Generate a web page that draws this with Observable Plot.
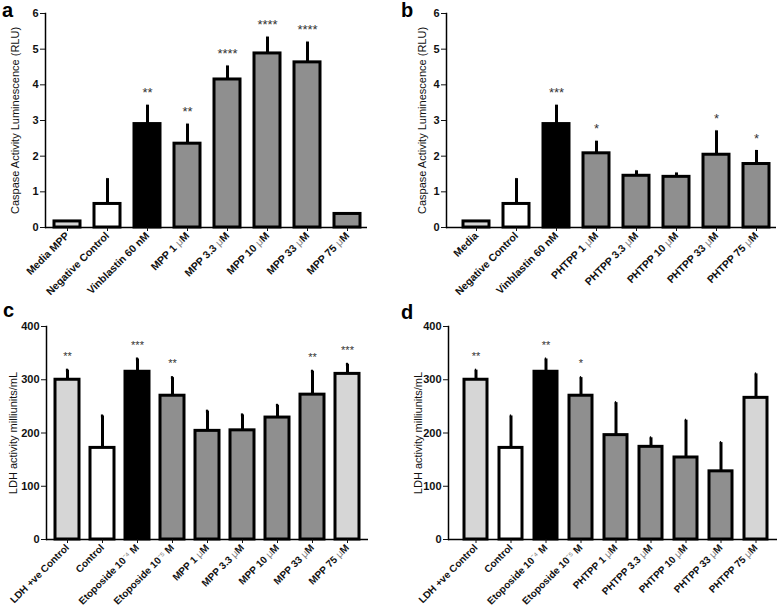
<!DOCTYPE html>
<html>
<head>
<meta charset="utf-8">
<script src="https://cdn.jsdelivr.net/npm/d3@7"></script>
<script src="https://cdn.jsdelivr.net/npm/@observablehq/plot@0.6"></script>
<style>
  html, body { margin: 0; padding: 0; background: #fff; }
  #root { position: relative; width: 778px; height: 607px; overflow: hidden; font-family: "Liberation Sans", Arial, sans-serif; }
  .panel { position: absolute; }
  .panel svg { overflow: visible; }
  .letter { position: absolute; font-weight: bold; font-size: 20px; line-height: 20px; color: #000; }
  .panel g[aria-label="x-axis tick label"] { font-size: 10.5px !important; font-weight: bold; }
  .panel.ldh g[aria-label="x-axis tick label"] { font-size: 10px !important; }
  .panel g[aria-label="y-axis tick label"] { font-size: 11px !important; font-weight: bold; }
</style>
</head>
<body>
<div id="root"></div>
<script>
// ---------- Data ----------
// Panel a: caspase activity, MPP
const aNames = ["Media MPP", "Negative Control", "Vinblastin 60 nM", "MPP 1 μM", "MPP 3.3 μM", "MPP 10 μM", "MPP 33 μM", "MPP 75 μM"];
const aGroup = ["media", "negative", "reference", "treatment", "treatment", "treatment", "treatment", "treatment"];
const aMean  = [0.17, 0.66, 2.90, 2.35, 4.15, 4.88, 4.63, 0.38];
const aUpper = [null, 1.37, 3.43, 2.90, 4.53, 5.34, 5.20, null];
const aStars = ["", "", "**", "**", "****", "****", "****", ""];

// Panel b: caspase activity, PHTPP
const bNames = ["Media", "Negative Control", "Vinblastin 60 nM", "PHTPP 1 μM", "PHTPP 3.3 μM", "PHTPP 10 μM", "PHTPP 33 μM", "PHTPP 75 μM"];
const bGroup = ["media", "negative", "reference", "treatment", "treatment", "treatment", "treatment", "treatment"];
const bMean  = [0.17, 0.66, 2.90, 2.08, 1.45, 1.42, 2.04, 1.78];
const bUpper = [null, 1.37, 3.43, 2.42, 1.59, 1.53, 2.71, 2.16];
const bStars = ["", "", "***", "*", "", "", "*", "*"];

// Panel c: LDH activity, MPP
const cNames = ["LDH +ve Control", "Control", "Etoposide 10⁻⁴ M", "Etoposide 10⁻⁵ M", "MPP 1 μM", "MPP 3.3 μM", "MPP 10 μM", "MPP 33 μM", "MPP 75 μM"];
const cGroup = ["media", "negative", "reference", "treatment", "treatment", "treatment", "treatment", "treatment", "media"];
const cMean  = [300, 172, 315, 270, 204, 205, 229, 272, 311];
const cUpper = [318, 232, 339, 304, 241, 234, 252, 316, 329];
const cStars = ["**", "", "***", "**", "", "", "", "**", "***"];

// Panel d: LDH activity, PHTPP
const dNames = ["LDH +ve Control", "Control", "Etoposide 10⁻⁴ M", "Etoposide 10⁻⁵ M", "PHTPP 1 μM", "PHTPP 3.3 μM", "PHTPP 10 μM", "PHTPP 33 μM", "PHTPP 75 μM"];
const dGroup = ["media", "negative", "reference", "treatment", "treatment", "treatment", "treatment", "treatment", "media"];
const dMean  = [300, 172, 315, 270, 196, 174, 154, 128, 266];
const dUpper = [318, 232, 339, 304, 257, 191, 224, 182, 311];
const dStars = ["**", "", "**", "*", "", "", "", "", ""];

const caspaseTicks = [0, 1, 2, 3, 4, 5, 6];
const ldhTicks = [0, 100, 200, 300, 400];
const caspaseLabel = "Caspase Activity Luminescence (RLU)";
const ldhLabel = "LDH activity milliunits/mL";

// ---------- Drawing ----------
const groupDomain = ["media", "negative", "reference", "treatment"];
const groupRange  = ["#d6d6d6", "#ffffff", "#000000", "#8f8f8f"];

function table(names, group, mean, upper, stars) {
  return names.map((n, i) => ({name: n, group: group[i], mean: mean[i], upper: upper[i], stars: stars[i]}));
}

function panel(cfg) {
  const data = table(cfg.names, cfg.group, cfg.mean, cfg.upper, cfg.stars);
  const withErr = data.filter(d => d.upper != null);
  const withStars = data.filter(d => d.stars);
  const rangeW = cfg.width - cfg.marginLeft - cfg.marginRight - cfg.insetLeft;
  const step = rangeW / data.length;
  const capInset = (step - 14) / 2;
  const plot = Plot.plot({
    width: cfg.width,
    height: cfg.height,
    marginTop: cfg.marginTop,
    marginBottom: cfg.marginBottom,
    marginLeft: cfg.marginLeft,
    marginRight: cfg.marginRight,
    style: {fontFamily: "'Liberation Sans', Arial, sans-serif", fontSize: "11px", fontWeight: "bold", color: "#111", background: "transparent", overflow: "visible"},
    x: {domain: cfg.names, paddingInner: cfg.padding, paddingOuter: cfg.padding / 2, insetLeft: cfg.insetLeft, label: null},
    y: {domain: cfg.yDomain, label: null},
    color: {domain: groupDomain, range: groupRange},
    marks: [
      Plot.ruleX(withErr, {x: "name", y1: "mean", y2: "upper", stroke: "#000", strokeWidth: 3}),
      Plot.tickY(withErr, {x: "name", y: "upper", stroke: "#000", strokeWidth: 3, insetLeft: capInset, insetRight: capInset}),
      Plot.barY(data, {x: "name", y: "mean", fill: "group", stroke: "#000", strokeWidth: 3}),
      Plot.text(withStars, {x: "name", y: "upper", text: "stars", dy: cfg.starDy, fontSize: cfg.starSize, fontWeight: "normal", fill: "#333", lineAnchor: "middle"}),
      Plot.frame({anchor: "left", stroke: "#000", strokeWidth: 1.5}),
      Plot.ruleY([0], {stroke: "#000", strokeWidth: 1.5}),
      Plot.axisY({ticks: cfg.yTicks, tickFormat: d3.format("d"), tickSize: 5, tickPadding: 2, label: null}),
      Plot.axisX({tickSize: 4, tickPadding: 2.5, tickRotate: -45, label: null}),
      Plot.text([cfg.yLabel], {frameAnchor: "left", rotate: -90, dx: cfg.labelDx, fontSize: 11, fontWeight: "normal", fill: "#111", textAnchor: "middle", lineAnchor: "middle"})
    ]
  });
  // lighten the μ symbol and exponents in tick labels, as in the original
  plot.querySelectorAll('g[aria-label="x-axis tick label"] text').forEach(t => {
    const s = t.textContent;
    const parts = s.split(/(μ|⁻⁴|⁻⁵)/).filter(p => p !== "");
    if (parts.length < 2) return;
    while (t.firstChild) t.removeChild(t.firstChild);
    parts.forEach(p => {
      const ts = document.createElementNS("http://www.w3.org/2000/svg", "tspan");
      ts.textContent = p;
      if (/^(μ|⁻⁴|⁻⁵)$/.test(p)) { ts.setAttribute("fill", "#808080"); ts.setAttribute("font-weight", "normal"); }
      t.appendChild(ts);
    });
  });
  const div = document.createElement("div");
  div.className = "panel " + cfg.kind;
  div.style.left = cfg.left + "px";
  div.style.top = cfg.top + "px";
  div.appendChild(plot);
  return div;
}

const root = document.getElementById("root");
root.appendChild(panel({
  kind: "caspase", names: aNames, group: aGroup, mean: aMean, upper: aUpper, stars: aStars,
  left: 0, top: 0, width: 389, height: 300, marginTop: 13, marginBottom: 73, marginLeft: 45, marginRight: 22, insetLeft: 1,
  padding: 0.35, yDomain: [0, 6], yTicks: caspaseTicks, yLabel: caspaseLabel, labelDx: -30, starDy: -12, starSize: 13
}));
root.appendChild(panel({
  kind: "caspase", names: bNames, group: bGroup, mean: bMean, upper: bUpper, stars: bStars,
  left: 389, top: 0, width: 389, height: 300, marginTop: 13, marginBottom: 73, marginLeft: 57, marginRight: 2, insetLeft: 9,
  padding: 0.35, yDomain: [0, 6], yTicks: caspaseTicks, yLabel: caspaseLabel, labelDx: -24, starDy: -12, starSize: 13
}));
root.appendChild(panel({
  kind: "ldh", names: cNames, group: cGroup, mean: cMean, upper: cUpper, stars: cStars,
  left: 0, top: 300, width: 389, height: 307, marginTop: 26, marginBottom: 68, marginLeft: 46, marginRight: 21, insetLeft: 0,
  padding: 0.32, yDomain: [0, 400], yTicks: ldhTicks, yLabel: ldhLabel, labelDx: -33, starDy: -14, starSize: 11
}));
root.appendChild(panel({
  kind: "ldh", names: dNames, group: dGroup, mean: dMean, upper: dUpper, stars: dStars,
  left: 389, top: 300, width: 389, height: 307, marginTop: 26, marginBottom: 68, marginLeft: 59, marginRight: 1, insetLeft: 7,
  padding: 0.33, yDomain: [0, 400], yTicks: ldhTicks, yLabel: ldhLabel, labelDx: -30, starDy: -14, starSize: 11
}));

[["a", 2, 0], ["b", 401, 0], ["c", 3, 300], ["d", 401, 302]].forEach(([l, x, y]) => {
  const el = document.createElement("div");
  el.className = "letter";
  el.textContent = l;
  el.style.left = x + "px";
  el.style.top = y + "px";
  root.appendChild(el);
});
</script>
</body>
</html>
